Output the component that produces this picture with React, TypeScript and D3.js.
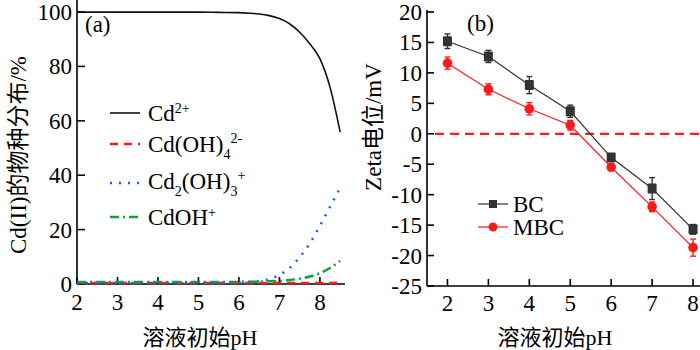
import React, { useRef, useEffect } from 'react';
import * as d3 from 'd3';

// Panel (a): species distribution vs pH
const phA = [2, 2.5, 3, 3.5, 4, 4.5, 5, 5.5, 6, 6.25, 6.5, 6.75, 7, 7.25, 7.5, 7.75, 8, 8.25, 8.5];
const cd2 = [99.6, 99.6, 99.6, 99.6, 99.6, 99.6, 99.6, 99.5, 99.4, 99.2, 98.9, 98.3, 97.2, 95.3, 92.2, 88.0, 82.5, 72.0, 55.5];
const cdOH4 = [0, 0, 0, 0, 0, 0, 0, 0, 0, 0, 0, 0, 0, 0, 0, 0, 0, 0, 0.1];
const cd2OH3 = [0, 0, 0, 0, 0, 0, 0, 0, 0.1, 0.3, 0.7, 1.5, 3.0, 5.5, 9.5, 14.5, 21.0, 28.0, 35.0];
const cdOHp = [0.4, 0.4, 0.4, 0.4, 0.4, 0.4, 0.4, 0.4, 0.4, 0.5, 0.5, 0.6, 0.8, 1.1, 1.6, 2.4, 3.6, 5.5, 8.2];

// Panel (b): zeta potential
const phB = [2, 3, 4, 5, 6, 7, 8];
const bc = [15.2, 12.7, 8.0, 3.7, -3.9, -9.0, -15.7];
const bcErr = [1.2, 1.0, 1.4, 1.0, 0.5, 1.8, 0.8];
const mbc = [11.6, 7.3, 4.1, 1.4, -5.5, -12.0, -18.7];
const mbcErr = [1.0, 0.9, 1.0, 0.8, 0.5, 0.8, 1.4];

const ticksA = [2, 3, 4, 5, 6, 7, 8];
const yTicksA = [0, 20, 40, 60, 80, 100];
const yTicksB = [20, 15, 10, 5, 0, -5, -10, -15, -20, -25];

const FONT = '"Liberation Serif", "Times New Roman", "Noto Sans CJK SC", serif';
const FS = '23px';
const SUB = '14px';

export default function App() {
  const svgRef = useRef<SVGSVGElement>(null);

  useEffect(() => {
    const svg = d3.select(svgRef.current);
    svg.selectAll('*').remove();
    svg.style('font-family', FONT);

    // ---------- Panel (a) ----------
    const xA = d3.scaleLinear().domain([2, 8.62]).range([77, 345]);
    const yA = d3.scaleLinear().domain([0, 100]).range([284, 12]);
    const gA = svg.append('g');

    // axis lines
    gA.append('line').attr('x1', xA(2)).attr('x2', xA(2)).attr('y1', 0).attr('y2', yA(0))
      .attr('stroke', '#000').attr('stroke-width', 1.6);
    gA.append('line').attr('x1', xA(2)).attr('x2', 345).attr('y1', yA(0)).attr('y2', yA(0))
      .attr('stroke', '#000').attr('stroke-width', 1.6);

    yTicksA.forEach(t => {
      gA.append('line').attr('x1', xA(2)).attr('x2', xA(2) + 8).attr('y1', yA(t)).attr('y2', yA(t))
        .attr('stroke', '#000').attr('stroke-width', 1.6);
      gA.append('text').attr('x', 72).attr('y', yA(t)).attr('dy', '0.35em')
        .attr('text-anchor', 'end').style('font-size', FS).text(t);
    });
    ticksA.forEach(t => {
      gA.append('line').attr('x1', xA(t)).attr('x2', xA(t)).attr('y1', yA(0)).attr('y2', yA(0) - 7)
        .attr('stroke', '#000').attr('stroke-width', 1.6);
      gA.append('text').attr('x', xA(t)).attr('y', 302).attr('dy', '0.35em')
        .attr('text-anchor', 'middle').style('font-size', FS).text(t);
    });

    const lineA = (vals: number[]) => d3.line<number>()
      .x((_, i) => xA(phA[i]))
      .y(d => yA(d) - 1)
      .curve(d3.curveMonotoneX)(vals);

    const series = [
      { vals: cdOH4, color: '#ff1a1a', dash: '8,6', w: 2.5 },
      { vals: cdOHp, color: '#10a040', dash: '9,4,2,4', w: 2.5 },
      { vals: cd2OH3, color: '#1a5cff', dash: '2,7', w: 2.5 },
      { vals: cd2, color: '#111', dash: null, w: 1.6 },
    ];
    series.forEach(s => {
      gA.append('path').attr('d', lineA(s.vals)).attr('fill', 'none')
        .attr('stroke', s.color).attr('stroke-width', s.w)
        .attr('stroke-dasharray', s.dash);
    });

    gA.append('text').attr('x', 85).attr('y', 24).attr('dy', '0.35em')
      .style('font-size', FS).text('(a)');

    // legend (a)
    const legA = [
      { color: '#111', dash: null, w: 1.6, y: 113 },
      { color: '#ff1a1a', dash: '8,6', w: 2.5, y: 144 },
      { color: '#1a5cff', dash: '2,7', w: 2.5, y: 183 },
      { color: '#10a040', dash: '9,4,2,4', w: 2.5, y: 217 },
    ];
    legA.forEach(l => {
      gA.append('line').attr('x1', 110).attr('x2', 140).attr('y1', l.y).attr('y2', l.y)
        .attr('stroke', l.color).attr('stroke-width', l.w).attr('stroke-dasharray', l.dash);
    });
    const t1 = gA.append('text').attr('x', 148).attr('y', 113).attr('dy', '0.35em').style('font-size', FS);
    t1.append('tspan').text('Cd');
    t1.append('tspan').attr('dy', -8).style('font-size', SUB).text('2+');

    const t2 = gA.append('text').attr('x', 148).attr('y', 144).attr('dy', '0.35em').style('font-size', FS);
    t2.append('tspan').text('Cd(OH)');
    t2.append('tspan').attr('dy', 7).style('font-size', SUB).text('4');
    t2.append('tspan').attr('dy', -16).style('font-size', SUB).text('2-');

    const t3 = gA.append('text').attr('x', 148).attr('y', 181).attr('dy', '0.35em').style('font-size', FS);
    t3.append('tspan').text('Cd');
    t3.append('tspan').attr('dy', 7).style('font-size', SUB).text('2');
    t3.append('tspan').attr('dy', -7).text('(OH)');
    t3.append('tspan').attr('dy', 7).style('font-size', SUB).text('3');
    t3.append('tspan').attr('dy', -16).style('font-size', SUB).text('+');

    const t4 = gA.append('text').attr('x', 148).attr('y', 217).attr('dy', '0.35em').style('font-size', FS);
    t4.append('tspan').text('CdOH');
    t4.append('tspan').attr('dy', -8).style('font-size', SUB).text('+');

    gA.append('text').attr('x', 200).attr('y', 337).attr('dy', '0.35em').attr('text-anchor', 'middle')
      .style('font-size', '22px').text('溶液初始pH');
    gA.append('text').attr('transform', 'translate(18,155) rotate(-90)').attr('dy', '0.35em')
      .attr('text-anchor', 'middle').style('font-size', FS).text('Cd(II)的物种分布/%');

    // ---------- Panel (b) ----------
    const xB = d3.scaleLinear().domain([1.5, 8.17]).range([427, 700]);
    const yB = d3.scaleLinear().domain([-25, 20]).range([286, 12]);
    const gB = svg.append('g');

    gB.append('line').attr('x1', xB(1.5)).attr('x2', xB(1.5)).attr('y1', yB(20) - 2).attr('y2', yB(-25))
      .attr('stroke', '#000').attr('stroke-width', 1.6);
    gB.append('line').attr('x1', xB(1.5)).attr('x2', 700).attr('y1', yB(-25)).attr('y2', yB(-25))
      .attr('stroke', '#000').attr('stroke-width', 1.6);
    yTicksB.forEach(t => {
      gB.append('line').attr('x1', xB(1.5)).attr('x2', xB(1.5) + 7).attr('y1', yB(t)).attr('y2', yB(t))
        .attr('stroke', '#000').attr('stroke-width', 1.6);
      gB.append('text').attr('x', 422).attr('y', yB(t)).attr('dy', '0.35em')
        .attr('text-anchor', 'end').style('font-size', FS).text(t);
    });
    phB.forEach(t => {
      gB.append('line').attr('x1', xB(t)).attr('x2', xB(t)).attr('y1', yB(-25)).attr('y2', yB(-25) - 7)
        .attr('stroke', '#000').attr('stroke-width', 1.6);
      gB.append('text').attr('x', xB(t)).attr('y', 303).attr('dy', '0.35em')
        .attr('text-anchor', 'middle').style('font-size', FS).text(t);
    });

    // zero line
    gB.append('line').attr('x1', 435).attr('x2', 700).attr('y1', yB(0)).attr('y2', yB(0))
      .attr('stroke', '#ff1a1a').attr('stroke-width', 2.2).attr('stroke-dasharray', '9,6');

    const drawSeries = (vals: number[], errs: number[], color: string, shape: 'square' | 'circle') => {
      const line = d3.line<number>().x((_, i) => xB(phB[i])).y(d => yB(d));
      gB.append('path').attr('d', line(vals)).attr('fill', 'none').attr('stroke', color).attr('stroke-width', 1.2);
      vals.forEach((v, i) => {
        const x = xB(phB[i]);
        const eg = gB.append('g').attr('stroke', color).attr('stroke-width', 1.4);
        eg.append('line').attr('x1', x).attr('x2', x).attr('y1', yB(v + errs[i])).attr('y2', yB(v - errs[i]));
        eg.append('line').attr('x1', x - 3).attr('x2', x + 3).attr('y1', yB(v + errs[i])).attr('y2', yB(v + errs[i]));
        eg.append('line').attr('x1', x - 3).attr('x2', x + 3).attr('y1', yB(v - errs[i])).attr('y2', yB(v - errs[i]));
        if (shape === 'square') {
          gB.append('rect').attr('x', x - 4.5).attr('y', yB(v) - 5).attr('width', 9).attr('height', 10)
            .attr('rx', 1).attr('fill', color);
        } else {
          gB.append('circle').attr('cx', x).attr('cy', yB(v)).attr('r', 4.8).attr('fill', color);
        }
      });
    };
    drawSeries(bc, bcErr, '#333333', 'square');
    drawSeries(mbc, mbcErr, '#ff1a1a', 'circle');

    gB.append('text').attr('x', 467).attr('y', 23).attr('dy', '0.35em')
      .style('font-size', FS).text('(b)');

    // legend (b)
    gB.append('line').attr('x1', 478).attr('x2', 508).attr('y1', 204).attr('y2', 204).attr('stroke', '#333').attr('stroke-width', 1.2);
    gB.append('rect').attr('x', 489).attr('y', 200).attr('width', 8).attr('height', 8).attr('fill', '#333');
    gB.append('text').attr('x', 513).attr('y', 204).attr('dy', '0.35em').style('font-size', FS).text('BC');
    gB.append('line').attr('x1', 478).attr('x2', 508).attr('y1', 227).attr('y2', 227).attr('stroke', '#ff1a1a').attr('stroke-width', 1.2);
    gB.append('circle').attr('cx', 493).attr('cy', 227).attr('r', 4.5).attr('fill', '#ff1a1a');
    gB.append('text').attr('x', 513).attr('y', 227).attr('dy', '0.35em').style('font-size', FS).text('MBC');

    gB.append('text').attr('x', 555).attr('y', 337).attr('dy', '0.35em').attr('text-anchor', 'middle')
      .style('font-size', '22px').text('溶液初始pH');
    gB.append('text').attr('transform', 'translate(373,127) rotate(-90)').attr('dy', '0.35em')
      .attr('text-anchor', 'middle').style('font-size', FS).text('Zeta电位/mV');
  }, []);

  return (
    <svg
      ref={svgRef}
      width={700}
      height={350}
      style={{ position: 'absolute', left: 0, top: 0, background: '#fff' }}
    />
  );
}
